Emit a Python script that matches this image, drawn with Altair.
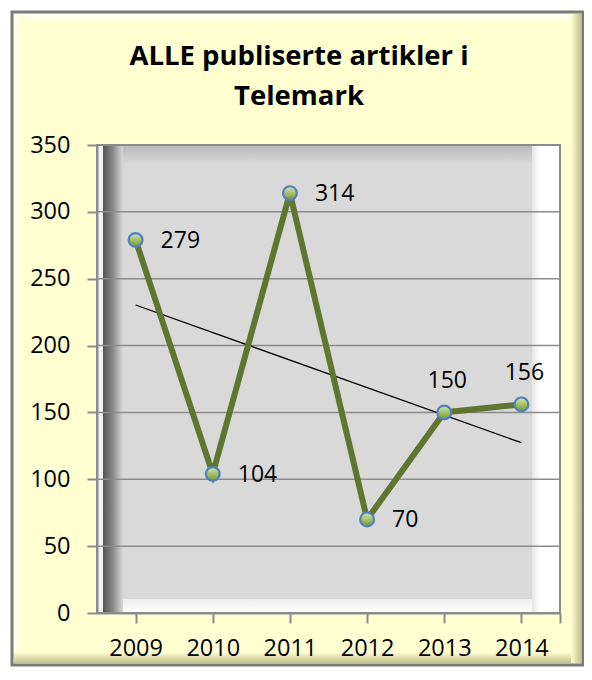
import altair as alt
import pandas as pd

years = [2009, 2010, 2011, 2012, 2013, 2014]
values = [279, 104, 314, 70, 150, 156]
y_ticks = [0, 50, 100, 150, 200, 250, 300, 350]
title_lines = ["ALLE publiserte artikler i", "Telemark"]

W, H = 463, 468
FONT = "Open Sans"

df = pd.DataFrame({"year": years, "value": values})
grid_df = pd.DataFrame({"v": y_ticks})
one = pd.DataFrame({"a": [0]})

xscale = alt.Scale(domain=[2008.5, 2014.5], nice=False, zero=False)
yscale = alt.Scale(domain=[0, 350], nice=False)

def grad(x2, y2, stops):
    return alt.LinearGradient(gradient="linear", x1=0, y1=0, x2=x2, y2=y2,
                              stops=[alt.GradientStop(color=c, offset=o) for o, c in stops])

def box(x, x2, y, y2, **mk):
    return alt.Chart(one).mark_rect(**mk).encode(
        x=alt.value(x), x2=alt.value(x2), y=alt.value(y), y2=alt.value(y2))

# outer yellow frame with bevel
frame = box(-85, 486, -133, 520, color="#FFFFD2", stroke="#7A7A7A", strokeWidth=3)
frame_top = box(-83, 484, -131, -122, color=grad(0, 1, [(0, "#FFFFF4"), (1, "#FFFFD2")]))
frame_left = box(-83, -75, -131, 518, color=grad(1, 0, [(0, "#FFFFF4"), (1, "#FFFFD2")]))
frame_bot = box(-83, 484, 507, 518, color=grad(0, 1, [(0, "#FFFFD2"), (1, "#C2C290")]))
frame_right = box(474, 484, -131, 518, color=grad(1, 0, [(0, "#FFFFD2"), (1, "#C2C290")]))

# plot area with bevel
plot_bg = box(0, W, 0, H, color="#D9D9D9")
bev_top = box(0, W, 0, 19, color=grad(0, 1, [(0, "#B8B8B8"), (1, "#D9D9D9")]))
bev_bot = box(0, W, H - 14, H, color=grad(0, 1, [(0, "#EDEDED"), (1, "#FFFFFF")]))
bev_right = box(W - 28, W, 0, H, color=grad(1, 0, [(0, "#E6E6E6"), (0.3, "#FFFFFF"), (1, "#FFFFFF")]))
bev_left_hi = box(0, 6, 0, H, color="#F2F2F2")
bev_left = box(6, 26, 0, H, color=grad(1, 0, [(0, "#555555"), (0.5, "#8A8A8A"), (1, "#D9D9D9")]))

grid = alt.Chart(grid_df).mark_rule(color="#8C8C8C", strokeWidth=1.5).encode(
    y=alt.Y("v:Q", scale=yscale), x=alt.value(0), x2=alt.value(W))

border = box(0, W, 0, H, fillOpacity=0, stroke="#8C8C8C", strokeWidth=2)

title = alt.Chart(one).mark_text(
    font=FONT, fontSize=27.5, fontWeight="bold", color="#000000",
    align="center", baseline="alphabetic", lineHeight=40,
).encode(x=alt.value(202), y=alt.value(-80), text=alt.value(title_lines))

base = alt.Chart(df).encode(
    x=alt.X("year:Q", scale=xscale,
            axis=alt.Axis(values=years + [2014.5], format="d", title=None, grid=False,
                          labelExpr="datum.value > 2014.2 ? '' : datum.label",
                          domainColor="#8C8C8C", domainWidth=2, tickColor="#8C8C8C",
                          tickWidth=2, tickSize=10, labelPadding=13, labelFontSize=23.5,
                          labelFont=FONT, labelColor="#000000", zindex=1)),
    y=alt.Y("value:Q", scale=yscale,
            axis=alt.Axis(values=y_ticks, title=None, grid=False,
                          domainColor="#8C8C8C", domainWidth=2, tickColor="#8C8C8C",
                          tickWidth=2, tickSize=10, labelPadding=17, labelFontSize=23.5,
                          labelFont=FONT, labelColor="#000000", zindex=1)),
)

trend = alt.Chart(df).transform_regression("year", "value").mark_line(
    color="#000000", strokeWidth=1.3).encode(
    x=alt.X("year:Q", scale=xscale), y=alt.Y("value:Q", scale=yscale))

line = base.mark_line(color="#5F7530", strokeWidth=6)
pts = base.mark_point(
    filled=True, size=190, opacity=1,
    fill=grad(0, 1, [(0, "#D7E4BD"), (0.6, "#9BBB59"), (1, "#77933C")]),
    stroke="#4F81BD", strokeWidth=2.2)

lab_right = base.transform_filter("datum.year <= 2012").mark_text(
    align="left", baseline="middle", dx=25, dy=1, fontSize=23, font=FONT, color="#000000"
).encode(text="value:Q")
lab_top = base.transform_filter("datum.year > 2012").mark_text(
    align="center", baseline="middle", dx=3, dy=-31, fontSize=23, font=FONT, color="#000000"
).encode(text="value:Q")

chart = alt.layer(
    frame, frame_top, frame_left, frame_bot, frame_right, title,
    plot_bg, bev_top, bev_bot, bev_right, bev_left_hi, bev_left,
    grid, border, trend, line, pts, lab_right, lab_top,
).properties(
    width=W, height=H,
    autosize="none",
    padding={"left": 89, "top": 137, "right": 24, "bottom": 59},
    background="white",
).configure_view(stroke=None)

chart.save("out.html", embed_options={"renderer": "svg", "actions": False})
